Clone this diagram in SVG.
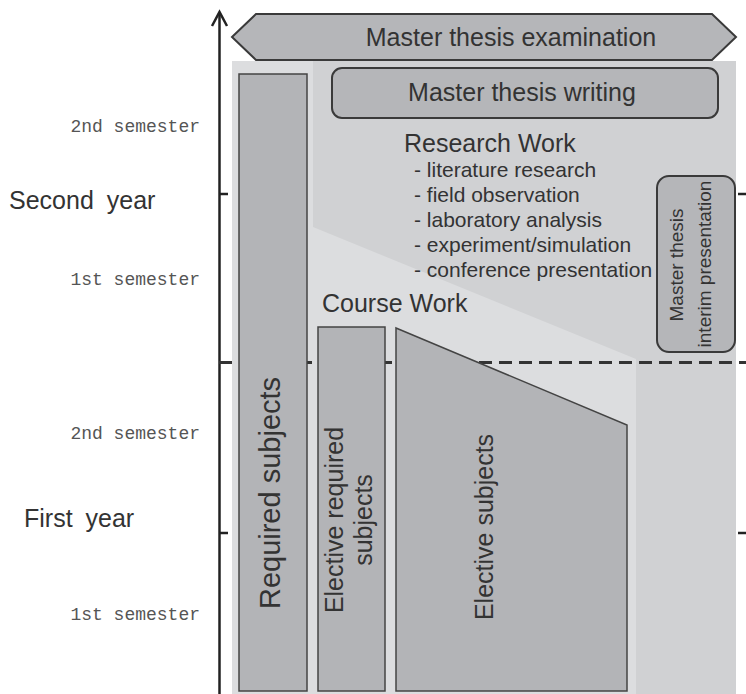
<svg xmlns="http://www.w3.org/2000/svg" width="746" height="694" viewBox="0 0 746 694">
<style>
.t{font-family:"Liberation Sans",Arial,sans-serif;fill:#333;}
.big{font-size:25px;}
.lst{font-size:21px;}
.sem{font-family:"Liberation Mono","Courier New",monospace;font-size:18px;fill:#555;}
.box{fill:#b3b4b7;stroke:#444;stroke-width:1.5;}
.rbox{fill:#b5b6b9;stroke:#3a3a3a;stroke-width:2;}
.axis{stroke:#222;stroke-width:2.5;fill:none;}
</style>
<rect width="746" height="694" fill="#fff"/>
<g id="background">
<rect x="232" y="61" width="504" height="633" fill="#dcdddf"/>
<polygon points="313,61 736,61 736,694 636,694 636,359 313,227" fill="#d0d1d3"/>
</g>
<g id="labels-left">
<text class="sem" x="200" y="132" text-anchor="end">2nd semester</text>
<text class="sem" x="200" y="285" text-anchor="end">1st semester</text>
<text class="sem" x="200" y="439" text-anchor="end">2nd semester</text>
<text class="sem" x="200" y="620" text-anchor="end">1st semester</text>
<text class="t big" x="9" y="209" word-spacing="6">Second year</text>
<text class="t big" x="24" y="527" word-spacing="6">First year</text>
</g>
<g id="connectors">
<line class="axis" x1="219.5" y1="13" x2="219.5" y2="694"/>
<polyline class="axis" points="212,26 219.5,12 227,26"/>
<line class="axis" x1="219.5" y1="194" x2="228" y2="194" stroke-width="1.5"/>
<line class="axis" x1="219.5" y1="533" x2="228" y2="533" stroke-width="1.5"/>
<line class="axis" x1="738" y1="194" x2="746" y2="194" stroke-width="1.5"/>
<line class="axis" x1="738" y1="533" x2="746" y2="533" stroke-width="1.5"/>
<line x1="219" y1="362.5" x2="746" y2="362.5" stroke="#333" stroke-width="2.8" stroke-dasharray="13,7"/>
</g>
<g id="exam">
<polygon class="rbox" points="232,37 256,14 712,14 736,37 712,60 256,60"/>
<text class="t big" x="511" y="46" text-anchor="middle">Master thesis examination</text>
</g>
<g id="writing">
<rect class="rbox" x="332" y="68" width="386" height="50" rx="10"/>
<text class="t big" x="522" y="101" text-anchor="middle">Master thesis writing</text>
</g>
<g id="research">
<text class="t big" x="404" y="152">Research Work</text>
<text class="t lst" x="414" y="177">- literature research</text>
<text class="t lst" x="414" y="202">- field observation</text>
<text class="t lst" x="414" y="227">- laboratory analysis</text>
<text class="t lst" x="414" y="252">- experiment/simulation</text>
<text class="t lst" x="414" y="277">- conference presentation</text>
</g>
<g id="interim">
<rect class="rbox" x="657" y="176" width="78" height="176" rx="12"/>
<text class="t" font-size="19" transform="translate(683,265) rotate(-90)" text-anchor="middle">Master thesis</text>
<text class="t" font-size="19" transform="translate(711,264) rotate(-90)" text-anchor="middle">interim presentation</text>
</g>
<g id="coursework">
<text class="t big" x="322" y="312">Course Work</text>
</g>
<g id="required">
<rect class="box" x="239" y="74" width="68" height="617"/>
<text class="t" font-size="29" transform="translate(280,493) rotate(-90)" text-anchor="middle">Required subjects</text>
</g>
<g id="elective-required">
<rect class="box" x="318" y="327" width="67" height="364"/>
<text class="t big" transform="translate(343,520) rotate(-90)" text-anchor="middle">Elective required</text>
<text class="t big" transform="translate(372,520) rotate(-90)" text-anchor="middle">subjects</text>
</g>
<g id="elective">
<polygon class="box" points="396,328 627,425 627,691 396,691"/>
<text class="t big" transform="translate(493,527) rotate(-90)" text-anchor="middle">Elective subjects</text>
</g>
</svg>
